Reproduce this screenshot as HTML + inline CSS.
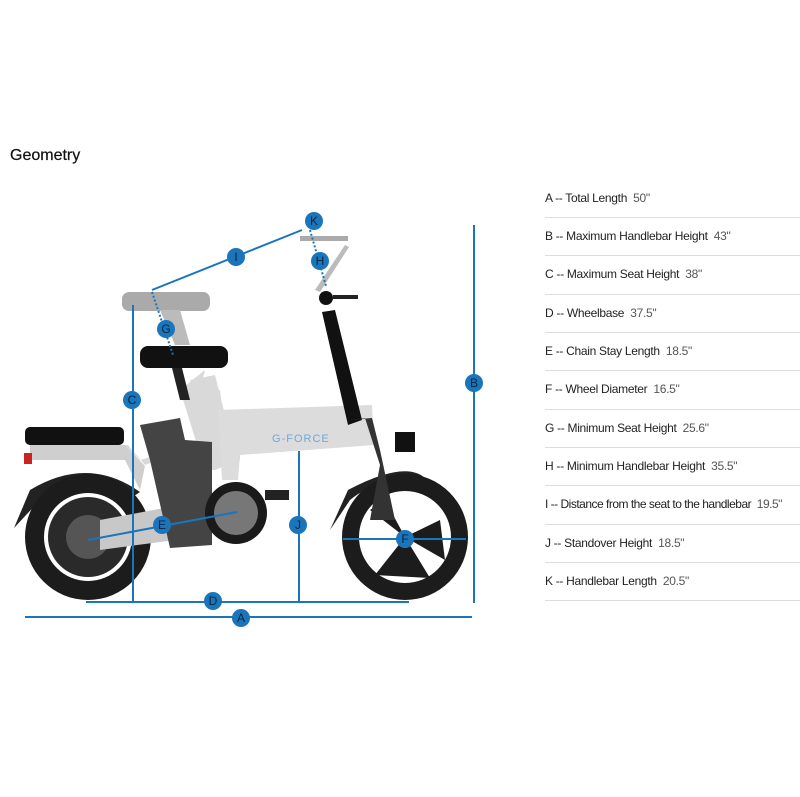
<!DOCTYPE html>
<html><head><meta charset="utf-8"><style>
body{margin:0;width:800px;height:797px;background:#fff;font-family:"Liberation Sans",sans-serif;position:relative;overflow:hidden}
h1{position:absolute;left:10px;top:147px;margin:0;font-size:16px;font-weight:normal;color:#111;-webkit-text-stroke:0.2px #111}
.t{position:absolute;left:545px;width:255px;font-size:12px;color:#222;border-bottom:1px solid #ddd;height:38px;line-height:1;white-space:nowrap;letter-spacing:-0.3px}
.t span{color:#555}
svg{position:absolute;left:0;top:0}
</style></head><body>
<h1>Geometry</h1>
<div class="t" style="top:192px;height:25px">A -- Total Length&nbsp; <span>50"</span></div>
<div class="t" style="top:230px;height:25px">B -- Maximum Handlebar Height&nbsp; <span>43"</span></div>
<div class="t" style="top:268px;height:26px">C -- Maximum Seat Height&nbsp; <span>38"</span></div>
<div class="t" style="top:307px;height:25px">D -- Wheelbase&nbsp; <span>37.5"</span></div>
<div class="t" style="top:345px;height:25px">E -- Chain Stay Length&nbsp; <span>18.5"</span></div>
<div class="t" style="top:383px;height:26px">F -- Wheel Diameter&nbsp; <span>16.5"</span></div>
<div class="t" style="top:422px;height:25px">G -- Minimum Seat Height&nbsp; <span>25.6"</span></div>
<div class="t" style="top:460px;height:25px">H -- Minimum Handlebar Height&nbsp; <span>35.5"</span></div>
<div class="t" style="top:498px;height:26px;letter-spacing:-0.5px">I -- Distance from the seat to the handlebar&nbsp; <span>19.5"</span></div>
<div class="t" style="top:537px;height:25px">J -- Standover Height&nbsp; <span>18.5"</span></div>
<div class="t" style="top:575px;height:25px">K -- Handlebar Length&nbsp; <span>20.5"</span></div>
<svg width="800" height="797" viewBox="0 0 800 797">
<g>
<path d="M14,528 L30,490 Q88,455 140,492 L128,500 Q88,470 40,500 Z" fill="#222"/>
<path d="M330,530 L348,490 Q405,460 425,478 L420,486 Q380,475 350,500 Z" fill="#222"/>
<circle cx="88" cy="537" r="63" fill="#1c1c1c"/>
<circle cx="88" cy="537" r="44" fill="#fff"/>
<circle cx="88" cy="537" r="40" fill="#2a2a2a"/>
<circle cx="88" cy="537" r="22" fill="#555"/>
<circle cx="405" cy="537" r="63" fill="#1c1c1c"/>
<circle cx="405" cy="537" r="46" fill="#fff"/>
<path d="M405,537 L440,520 L445,560 Z M405,537 L375,575 L430,578 Z M405,537 L370,510 L385,500 Z" fill="#1c1c1c"/>
<path d="M30,445 L128,445 L145,465 L210,440 L225,430 L220,390 L200,390 L205,370 L180,390 L205,470 L215,470 L240,460 L240,440 L345,435 L365,440 L370,410 L225,415 L215,375 L190,380 L205,440 L140,460 L125,445 Z" fill="#d9d9d9"/>
<path d="M218,410 L372,405 L374,445 L240,455 L238,480 L222,480 Z" fill="#dcdcdc"/>
<path d="M30,445 L125,445 L145,466 L140,490 L125,460 L30,460 Z" fill="#cfcfcf"/>
<path d="M100,520 L180,505 L175,540 L100,550 Z" fill="#c8c8c8"/>
<path d="M140,425 L180,418 L185,440 L212,442 L212,545 L170,548 L150,460 Z" fill="#444"/>
<rect x="25" y="427" width="99" height="18" rx="5" fill="#111"/>
<rect x="24" y="453" width="8" height="11" fill="#c22"/>
<rect x="122" y="292" width="88" height="19" rx="7" fill="#aaa"/>
<rect x="140" y="346" width="88" height="22" rx="8" fill="#111"/>
<path d="M160,310 L180,310 L190,345 L175,345 Z" fill="#bbb"/>
<path d="M172,368 L182,368 L190,400 L180,400 Z" fill="#222"/>
<path d="M322,312 L335,310 L362,420 L348,425 Z" fill="#111"/>
<path d="M348,420 L365,418 L380,465 L370,520 L395,520 L380,450 L372,418" fill="#333"/>
<rect x="395" y="432" width="20" height="20" fill="#111"/>
<circle cx="326" cy="298" r="7" fill="#111"/>
<rect x="333" y="295" width="25" height="4" fill="#222"/>
<path d="M315,290 L345,245 L349,247 L320,292 Z" fill="#bbb"/>
<rect x="300" y="236" width="48" height="5" fill="#aaa"/>
<circle cx="236" cy="513" r="31" fill="#1a1a1a"/>
<circle cx="236" cy="513" r="22" fill="#777"/>
<rect x="265" y="490" width="24" height="10" fill="#222"/>
<text x="272" y="442" font-family="Liberation Sans" font-size="11" fill="#6fa8dc" letter-spacing="1">G-FORCE</text>
</g>
<g stroke="#1b75bb" stroke-width="2" fill="none">
<line x1="25" y1="617" x2="472" y2="617"/>
<line x1="86" y1="602" x2="409" y2="602"/>
<line x1="474" y1="225" x2="474" y2="603"/>
<line x1="133" y1="305" x2="133" y2="603"/>
<line x1="299" y1="451" x2="299" y2="602"/>
<line x1="88" y1="540" x2="237" y2="512"/>
<line x1="343" y1="539" x2="466" y2="539"/>
<line x1="152" y1="290" x2="302" y2="230"/>
<line x1="310" y1="230" x2="326" y2="286" stroke-dasharray="2 2"/>
<line x1="152" y1="292" x2="173" y2="355" stroke-dasharray="2 2"/>
</g>
<g fill="#1b75bb">
<circle cx="241" cy="618" r="9"/><circle cx="213" cy="601" r="9"/><circle cx="474" cy="383" r="9"/>
<circle cx="132" cy="400" r="9"/><circle cx="298" cy="525" r="9"/><circle cx="162" cy="525" r="9"/>
<circle cx="405" cy="539" r="9"/><circle cx="236" cy="257" r="9"/><circle cx="314" cy="221" r="9"/>
<circle cx="320" cy="261" r="9"/><circle cx="166" cy="329" r="9"/>
</g>
<g font-family="Liberation Sans" font-size="12" fill="#0b2440" text-anchor="middle">
<text x="241" y="622">A</text><text x="213" y="605">D</text><text x="474" y="387">B</text>
<text x="132" y="404">C</text><text x="298" y="529">J</text><text x="162" y="529">E</text>
<text x="405" y="543">F</text><text x="236" y="261">I</text><text x="314" y="225">K</text>
<text x="320" y="265">H</text><text x="166" y="333">G</text>
</g>
</svg>
</body></html>
